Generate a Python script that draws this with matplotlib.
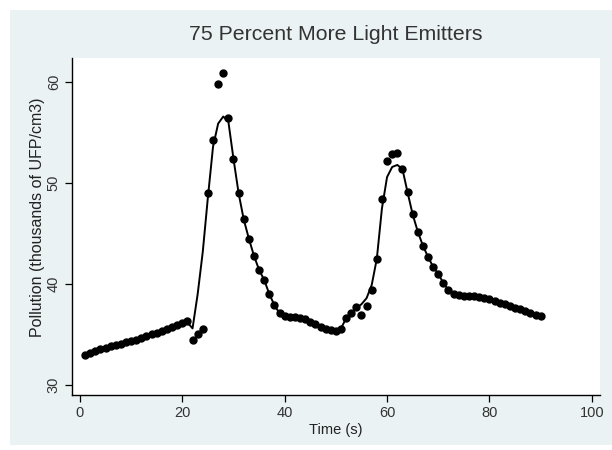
import matplotlib
matplotlib.use("Agg")
import matplotlib.pyplot as plt
from matplotlib.patches import Rectangle

plt.rcParams['font.family'] = ['Liberation Sans', 'DejaVu Sans']

title = "75 Percent More Light Emitters"
xlabel = "Time (s)"
ylabel = "Pollution (thousands of UFP/cm3)"
xticks = [0, 20, 40, 60, 80, 100]
yticks = [30, 40, 50, 60]

time_s = list(range(1, 91))
observed = [
    33.0, 33.2, 33.4, 33.6, 33.7, 33.85, 34.0, 34.1, 34.25, 34.35,
    34.5, 34.65, 34.8, 35.0, 35.15, 35.3, 35.5, 35.7, 35.9, 36.1,
    36.3, 34.5, 35.0, 35.5, 49.0, 54.3, 59.8, 60.9, 56.5, 52.4,
    49.0, 46.4, 44.5, 42.8, 41.4, 40.4, 39.0, 37.9, 37.1, 36.8,
    36.7, 36.7, 36.6, 36.5, 36.2, 36.0, 35.7, 35.55, 35.4, 35.3,
    35.5, 36.6, 37.1, 37.7, 36.9, 37.8, 39.4, 42.5, 48.4, 52.2,
    52.9, 53.0, 51.4, 49.1, 46.9, 45.2, 43.8, 42.7, 41.7, 41.0,
    40.1, 39.4, 39.0, 38.9, 38.85, 38.8, 38.8, 38.75, 38.65, 38.55,
    38.35, 38.15, 38.0, 37.8, 37.65, 37.5, 37.3, 37.1, 36.95, 36.8,
]
fitted = [
    33.0, 33.2, 33.4, 33.6, 33.7, 33.85, 34.0, 34.1, 34.25, 34.35,
    34.5, 34.65, 34.8, 35.0, 35.15, 35.3, 35.5, 35.7, 35.9, 36.05,
    36.2, 35.6, 39.0, 43.2, 48.6, 53.6, 55.9, 56.6, 56.1, 52.4,
    49.0, 46.4, 44.5, 42.8, 41.4, 40.4, 39.0, 37.9, 37.1, 36.8,
    36.7, 36.7, 36.6, 36.5, 36.2, 36.0, 35.7, 35.55, 35.4, 35.3,
    35.6, 36.6, 37.1, 37.6, 38.0, 38.6, 39.9, 42.5, 47.5, 50.6,
    51.6, 51.8, 51.4, 49.1, 46.9, 45.2, 43.8, 42.7, 41.7, 41.0,
    40.1, 39.4, 39.0, 38.9, 38.85, 38.8, 38.8, 38.75, 38.65, 38.55,
    38.35, 38.15, 38.0, 37.8, 37.65, 37.5, 37.3, 37.1, 36.95, 36.8,
]

W, H = 612, 450
fig = plt.figure(figsize=(W / 100, H / 100), dpi=100)
fig.patch.set_facecolor("white")
bg = Rectangle((10 / W, 5 / H), (W - 10) / W, (H - 15) / H,
               transform=fig.transFigure, facecolor="#eaf2f4",
               edgecolor="none", zorder=-10)
fig.add_artist(bg)

left, right, top, bottom = 72, 600, 58, 395
ax = fig.add_axes([left / W, 1 - bottom / H, (right - left) / W, (bottom - top) / H])
ax.set_zorder(1)
ax.set_facecolor("white")

ax.plot(time_s, fitted, color="black", lw=1.4, zorder=2)
ax.plot(time_s, observed, linestyle="none", marker="o", markersize=5.0,
        color="black", zorder=3)

ax.set_xlim(-1.55, 101.6)
ax.set_ylim(29.0, 62.4)
ax.set_xticks(xticks)
ax.set_yticks(yticks)
ax.set_xticklabels([str(v) for v in xticks])
ax.set_yticklabels([str(v) for v in yticks], rotation=90, va="center")

for s in ("top", "right"):
    ax.spines[s].set_visible(False)
for s in ("left", "bottom"):
    ax.spines[s].set_linewidth(1.0)
    ax.spines[s].set_color("black")

ax.tick_params(axis="both", direction="out", length=5, width=0.9,
               labelsize=10.5, labelcolor="#333333", color="black")
ax.tick_params(axis="x", pad=3)
ax.tick_params(axis="y", pad=3)

ax.set_xlabel(xlabel, fontsize=10.5, color="#222222", labelpad=2)
ax.set_ylabel(ylabel, fontsize=11.5, color="#222222", labelpad=4)
ax.yaxis.set_label_coords(-0.052, (bottom - 217) / (bottom - top))
fig.text((left + right) / 2 / W, 1 - 34 / H, title, ha="center", va="center",
         fontsize=15.3, color="#333333")

fig.savefig("out.png", dpi=100, facecolor=fig.get_facecolor())
